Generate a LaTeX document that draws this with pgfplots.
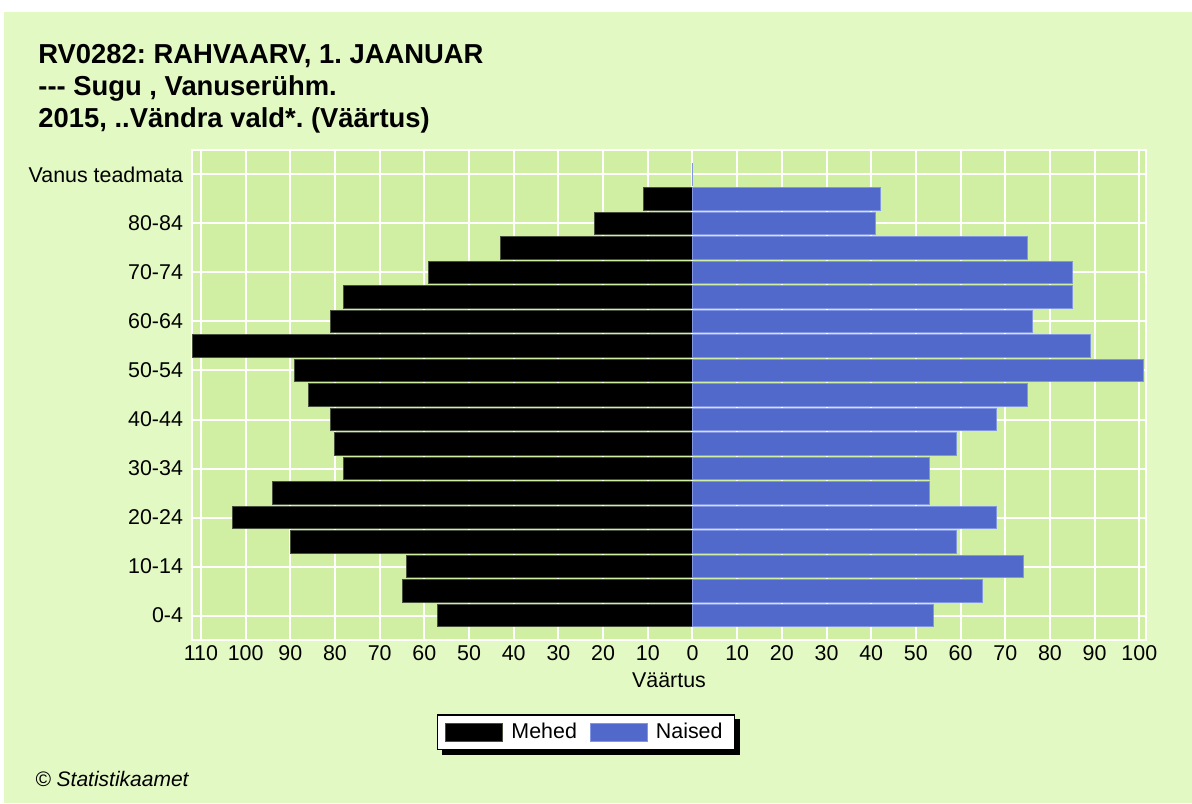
\documentclass[border=0pt]{standalone}
\usepackage{pgfplots}
\pgfplotsset{compat=1.18}
\usepackage{fontspec}
\setmainfont{Liberation Sans}
\definecolor{outerbg}{RGB}{227,249,196}
\definecolor{plotbg}{RGB}{209,239,162}
\definecolor{nblue}{RGB}{82,105,204}
\definecolor{nedge}{RGB}{130,150,225}
\definecolor{medge}{RGB}{70,80,60}
\pgfdeclarelayer{bg}
\pgfdeclarelayer{shad}
\pgfsetlayers{bg,shad,main}
\frenchspacing
\begin{document}
\begin{tikzpicture}
\begin{pgfonlayer}{bg}
\path[use as bounding box] (0,0) rectangle (596pt,401.5pt);
\fill[white] (0,0) rectangle (596pt,401.5pt);
\fill[outerbg] (2pt,0) rectangle (596pt,395.5pt);
\end{pgfonlayer}
\node[anchor=base west,font=\fontsize{13.7}{15}\selectfont\bfseries,inner sep=0pt] at (19pt,369.5pt) {RV0282: RAHVAARV, 1. JAANUAR};
\node[anchor=base west,font=\fontsize{13.7}{15}\selectfont\bfseries,inner sep=0pt] at (19pt,353.5pt) {-{}-{}- Sugu , Vanuserühm.};
\node[anchor=base west,font=\fontsize{13.7}{15}\selectfont\bfseries,inner sep=0pt] at (19pt,337.5pt) {2015, ..Vändra vald*. (Väärtus)};
\node[anchor=base west,font=\fontsize{10.5}{12}\selectfont\itshape,inner sep=0pt] at (17.5pt,8.5pt) {© Statistikaamet};
\begin{axis}[
  at={(96pt,81.5pt)}, anchor=south west,
  scale only axis, width=477pt, height=245pt,
  xmin=-112, xmax=101.5, ymin=-1, ymax=19,
  axis background/.style={fill=plotbg},
  axis line style={white,line width=1pt},
  xmajorgrids, ymajorgrids,
  grid style={white,line width=1pt},
  major tick length=0pt,
  xtick={-110,-100,...,100},
  xticklabel={\pgfmathparse{int(abs(\tick))}\pgfmathresult},
  ytick={0,2,...,18},
  yticklabels={0-4,10-14,20-24,30-34,40-44,50-54,60-64,70-74,80-84,Vanus teadmata},
  tick label style={font=\fontsize{10.7}{12}\selectfont},
  xticklabel style={anchor=center,yshift=-6.5pt},
  yticklabel style={anchor=east,xshift=-1pt},
  xlabel={Väärtus},
  xlabel style={font=\fontsize{10.7}{12}\selectfont,at={(axis description cs:0.5,0)},anchor=center,yshift=-20pt},
  legend columns=2,
  legend style={name=leg,at={(axis description cs:0.413,-0.188)},anchor=center,
    font=\fontsize{10.7}{12}\selectfont,draw=black,line width=0.7pt,fill=white,
    inner xsep=4pt,inner ysep=2pt,
    /tikz/every odd column/.append style={column sep=2pt},
    /tikz/every even column/.append style={column sep=4.5pt}},
  legend image code/.code={\draw[#1,line width=0.5pt] (0pt,-4.5pt) rectangle (28.5pt,4.5pt);},
]
\addplot[xbar,bar shift=0pt,bar width=11.3pt,fill=black,draw=medge,line width=0.5pt] coordinates {
(-57,0) (-65,1) (-64,2) (-90,3) (-103,4) (-94,5) (-78,6) (-80,7) (-81,8) (-86,9)
(-89,10) (-112,11) (-81,12) (-78,13) (-59,14) (-43,15) (-22,16) (-11,17)
};
\addlegendentry{Mehed}
\addplot[xbar,bar shift=0pt,bar width=11.3pt,fill=nblue,draw=nedge,line width=0.5pt] coordinates {
(54,0) (65,1) (74,2) (59,3) (68,4) (53,5) (53,6) (59,7) (68,8) (75,9)
(101,10) (89,11) (76,12) (85,13) (85,14) (75,15) (41,16) (42,17) (0,18)
};
\addlegendentry{Naised}
\end{axis}
\begin{pgfonlayer}{shad}
\fill[black] ([shift={(2.5pt,-2.5pt)}]leg.south west) rectangle ([shift={(2.5pt,-2.5pt)}]leg.north east);
\end{pgfonlayer}
\end{tikzpicture}
\end{document}
